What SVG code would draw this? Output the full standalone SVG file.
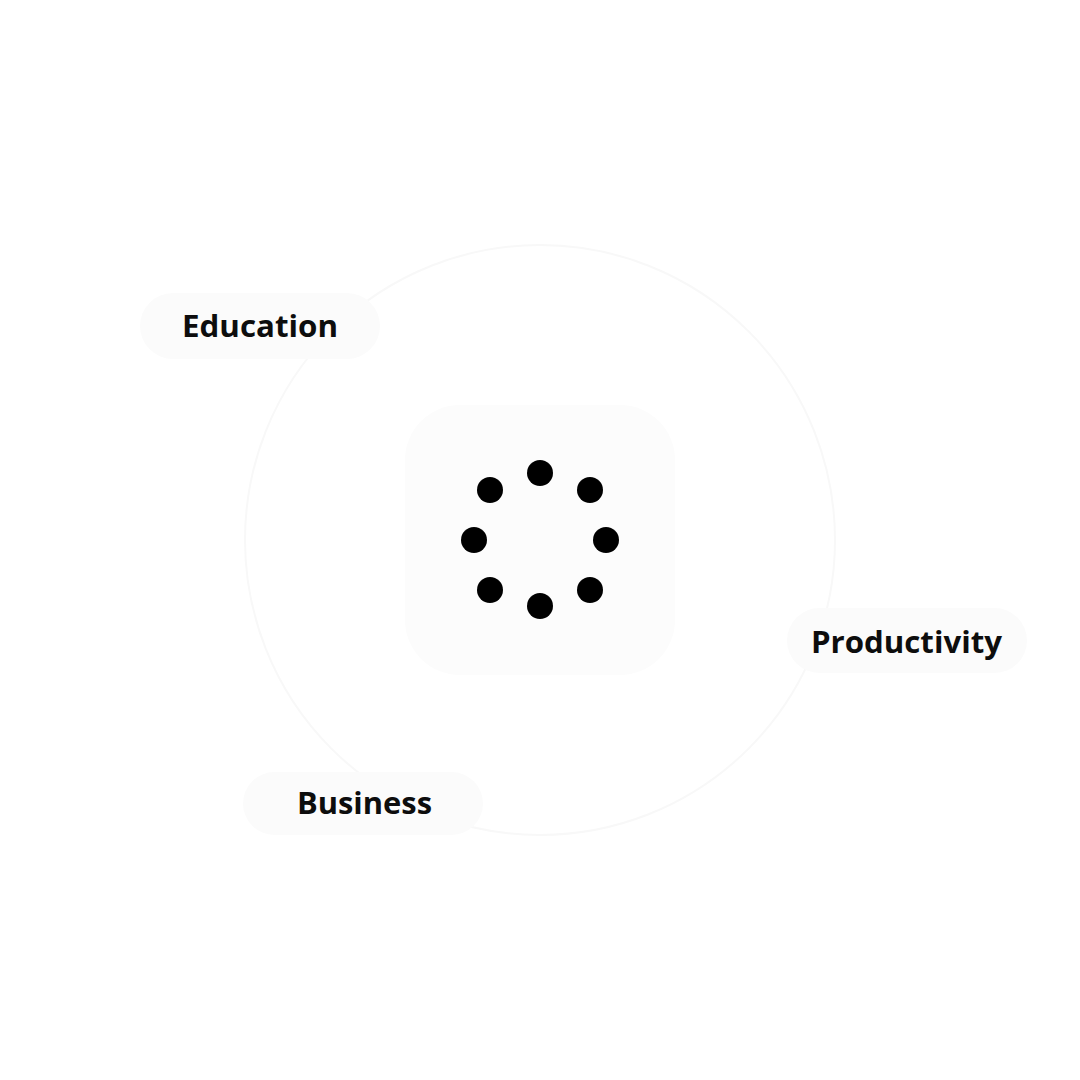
<svg xmlns="http://www.w3.org/2000/svg" width="1080" height="1080" viewBox="0 0 1080 1080">
<style>
.pill{fill:#fbfbfb;}
.lbl{font-family:"Open Sans","Liberation Sans",sans-serif;font-weight:700;font-size:31px;fill:#0d0d0d;}
.dot{fill:#000;}
.ring{fill:none;stroke:#f8f8f8;stroke-width:2;}
</style>
<rect width="1080" height="1080" fill="#ffffff"/>
<g id="connectors">
<circle class="ring" cx="540" cy="540" r="295"/>
</g>
<g id="hub">
<rect x="405" y="405" width="270" height="270" rx="55" fill="#fcfcfc"/>
<circle class="dot" cx="540" cy="473" r="13"/>
<circle class="dot" cx="590" cy="490" r="13"/>
<circle class="dot" cx="606" cy="540" r="13"/>
<circle class="dot" cx="590" cy="590" r="13"/>
<circle class="dot" cx="540" cy="606" r="13"/>
<circle class="dot" cx="490" cy="590" r="13"/>
<circle class="dot" cx="474" cy="540" r="13"/>
<circle class="dot" cx="490" cy="490" r="13"/>
</g>
<g id="education">
<rect class="pill" x="140" y="293" width="240" height="66" rx="33"/>
<text class="lbl" x="182" y="337" textLength="156" lengthAdjust="spacingAndGlyphs">Education</text>
</g>
<g id="productivity">
<rect class="pill" x="787" y="608" width="240" height="65" rx="32.5"/>
<text class="lbl" x="811" y="653" textLength="191" lengthAdjust="spacingAndGlyphs">Productivity</text>
</g>
<g id="business">
<rect class="pill" x="243" y="772" width="240" height="63" rx="31.5"/>
<text class="lbl" x="297" y="814" textLength="135" lengthAdjust="spacingAndGlyphs">Business</text>
</g>
</svg>
